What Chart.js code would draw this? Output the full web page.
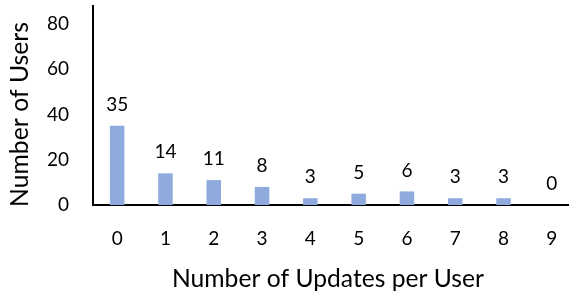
<!DOCTYPE html>
<html>
<head>
<meta charset="utf-8">
<script src="https://cdn.jsdelivr.net/npm/chart.js@4/dist/chart.umd.min.js"></script>
<style>
html,body{margin:0;padding:0;overflow:hidden;background:#fff;}
#wrap{width:576px;height:293px;position:relative;}
</style>
</head>
<body>
<div id="wrap"><canvas id="c" width="576" height="293"></canvas></div>
<script>
const categories = ["0","1","2","3","4","5","6","7","8","9"];
const users = [35,14,11,8,3,5,6,3,3,0];
const yTicks = [0,20,40,60,80];
const xTitle = "Number of Updates per User";
const yTitle = "Number of Users";

const FONT = "Lato, 'Open Sans', sans-serif";

function fitSize(ctx, text, targetWidth) {
  ctx.font = '20px ' + FONT;
  const w = ctx.measureText(text).width;
  return 20 * targetWidth / w;
}

const labelPlugin = {
  id: 'barLabels',
  afterDatasetsDraw(chart) {
    const ctx = chart.ctx;
    const meta = chart.getDatasetMeta(0);
    ctx.save();
    ctx.fillStyle = '#000';
    ctx.font = '19px ' + FONT;
    ctx.textAlign = 'center';
    ctx.textBaseline = 'middle';
    meta.data.forEach((el, i) => {
      ctx.fillText(String(users[i]), el.x, el.y - 21);
    });
    // x axis title
    const xs = fitSize(ctx, xTitle, 312);
    ctx.font = xs.toFixed(2) + 'px ' + FONT;
    ctx.textBaseline = 'alphabetic';
    ctx.fillText(xTitle, 328, 287);
    // y axis title
    const ys = fitSize(ctx, yTitle, 185);
    ctx.font = ys.toFixed(2) + 'px ' + FONT;
    ctx.translate(28, 114.5);
    ctx.rotate(-Math.PI / 2);
    ctx.fillText(yTitle, 0, 0);
    ctx.restore();
  }
};

new Chart(document.getElementById('c'), {
  type: 'bar',
  data: {
    labels: categories,
    datasets: [{
      data: users,
      backgroundColor: '#8FAADC',
      barPercentage: 0.3,
      categoryPercentage: 1.0
    }]
  },
  options: {
    responsive: false,
    animation: false,
    layout: { padding: { top: 6, right: 0, left: 0, bottom: 0 } },
    plugins: { legend: { display: false }, tooltip: { enabled: false } },
    scales: {
      x: {
        grid: { display: false, drawTicks: false },
        border: { display: true, color: '#000', width: 2 },
        ticks: { color: '#000', font: { family: FONT, size: 19 }, padding: 22, maxRotation: 0 },
        title: { display: false },
        afterFit(scale) { scale.height = 88; scale.paddingLeft = 0; scale.paddingRight = 0; scale.paddingTop = 0; scale.paddingBottom = 0; }
      },
      y: {
        min: 0,
        max: 88,
        grid: { display: false, drawTicks: false },
        border: { display: true, color: '#000', width: 2 },
        ticks: { color: '#000', font: { family: FONT, size: 19 }, padding: 24, stepSize: 20, includeBounds: false },
        afterBuildTicks(scale) { scale.ticks = yTicks.map(v => ({ value: v })); },
        title: { display: false },
        afterFit(scale) { scale.width = 93; scale.paddingTop = 0; scale.paddingBottom = 0; scale.paddingLeft = 0; scale.paddingRight = 0; }
      }
    }
  },
  plugins: [labelPlugin]
});
</script>
</body>
</html>
